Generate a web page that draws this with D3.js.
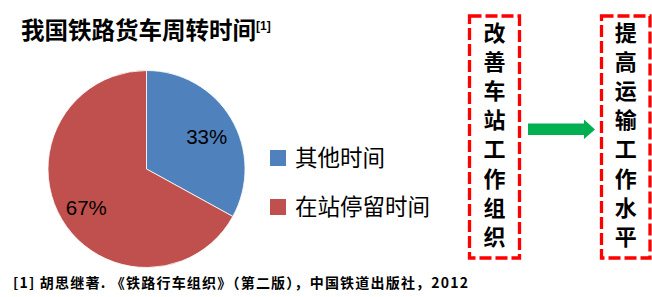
<!DOCTYPE html>
<html lang="en">
<head>
<meta charset="utf-8">
<script src="https://d3js.org/d3.v7.min.js"></script>
<style>
  body { margin: 0; background: #fff; }
</style>
</head>
<body>
<script>
// chart data
var categories = ["其他时间", "在站停留时间"];
var values = [33, 67];
var colors = ["#4F81BD", "#C0504D"];
var title = "我国铁路货车周转时间";
var leftWords = "改善车站工作组织".split("");
var rightWords = "提高运输工作水平".split("");
var footnote = "[1]  胡思继著. 《铁路行车组织》（第二版），中国铁道出版社，2012";

var w = 652, h = 297;
var svg = d3.select("body").append("svg")
  .attr("width", w).attr("height", h);

var cjk = "'Noto Sans CJK SC', sans-serif";

// title
var t = svg.append("text")
  .attr("x", 21).attr("y", 39)
  .style("font-family", cjk)
  .style("font-weight", "bold")
  .style("font-size", "23.5px")
  .attr("fill", "#000")
  .text(title);
t.append("tspan")
  .attr("dy", -9)
  .style("font-size", "12px")
  .style("font-family", "'Liberation Sans', sans-serif")
  .style("font-weight", "bold")
  .text("[1]");

// pie
var cx = 146.5, cy = 169, r = 98.5;
var pie = d3.pie().sort(null).value(function(d){ return d; });
var arcs = pie(values);
var arc = d3.arc().innerRadius(0).outerRadius(r);
var labelArc = d3.arc().innerRadius(r * 0.71).outerRadius(r * 0.71);

var g = svg.append("g").attr("transform", "translate(" + cx + "," + cy + ")");
g.selectAll("path.slice")
  .data(arcs)
  .enter().append("path")
  .attr("class", "slice")
  .attr("d", arc)
  .attr("fill", function(d, i){ return colors[i]; })
  .attr("stroke", "#fff")
  .attr("stroke-width", 0.8);

g.selectAll("text.pct")
  .data(arcs)
  .enter().append("text")
  .attr("class", "pct")
  .attr("transform", function(d){ return "translate(" + labelArc.centroid(d) + ")"; })
  .attr("text-anchor", "middle")
  .attr("dy", "0.5em")
  .style("font-family", "'Liberation Sans', sans-serif")
  .style("font-size", "20.5px")
  .attr("fill", "#000")
  .text(function(d){ return d.value + "%"; });

// legend
var legendY = d3.scalePoint().domain(categories).range([158, 207]);
var lg = svg.selectAll("g.leg")
  .data(categories)
  .enter().append("g")
  .attr("class", "leg")
  .attr("transform", function(d){ return "translate(270," + legendY(d) + ")"; });
lg.append("rect")
  .attr("x", 0).attr("y", -8)
  .attr("width", 16).attr("height", 16)
  .attr("fill", function(d, i){ return colors[i]; });
lg.append("text")
  .attr("x", 25).attr("y", 0)
  .attr("dy", "0.36em")
  .style("font-family", cjk)
  .style("font-size", "22.5px")
  .attr("fill", "#000")
  .text(function(d){ return d; });

// dashed boxes with vertical text
function box(x0, x1, words) {
  svg.append("rect")
    .attr("x", x0).attr("y", 16)
    .attr("width", x1 - x0).attr("height", 242)
    .attr("fill", "none")
    .attr("stroke", "#FF0000")
    .attr("stroke-width", 3.3)
    .attr("stroke-dasharray", "12,4");
  var ys = d3.scalePoint().domain(d3.range(words.length)).range([33, 237]);
  svg.selectAll(null)
    .data(words)
    .enter().append("text")
    .attr("x", (x0 + x1) / 2)
    .attr("y", function(d, i){ return ys(i); })
    .attr("dy", "0.36em")
    .attr("text-anchor", "middle")
    .style("font-family", cjk)
    .style("font-weight", "bold")
    .style("font-size", "22px")
    .attr("fill", "#000")
    .text(function(d){ return d; });
}
box(469.5, 519.5, leftWords);
box(601.5, 650, rightWords);

// arrow
var arrow = d3.path();
arrow.moveTo(528, 123.5);
arrow.lineTo(584, 123.5);
arrow.lineTo(584, 119.5);
arrow.lineTo(595, 129.5);
arrow.lineTo(584, 139);
arrow.lineTo(584, 135);
arrow.lineTo(528, 135);
arrow.closePath();
svg.append("path")
  .attr("d", arrow.toString())
  .attr("fill", "#00B050");

// footnote
svg.append("text")
  .attr("x", 13).attr("y", 288)
  .style("font-family", cjk)
  .style("font-weight", "bold")
  .style("font-size", "14px")
  .attr("fill", "#000")
  .attr("textLength", 455)
  .attr("lengthAdjust", "spacing")
  .text(footnote);
</script>
</body>
</html>
